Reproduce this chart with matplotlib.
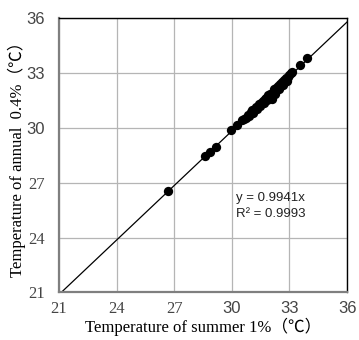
import matplotlib
matplotlib.use("Agg")
import matplotlib.pyplot as plt
import numpy as np

# Data
x_vals = [26.7, 28.6, 28.85, 29.15, 29.95, 30.25, 30.55, 30.65, 30.75, 30.85, 30.9, 31.0,
          31.05, 31.1, 31.2, 31.25, 31.3, 31.4, 31.45, 31.5, 31.6, 31.65, 31.7, 31.8,
          31.85, 31.9, 32.0, 32.05, 32.1, 32.2, 32.25, 32.3, 32.4, 32.45, 32.5, 32.6,
          32.65, 32.7, 32.8, 32.85, 32.9, 33.0, 33.1, 33.15, 33.55, 33.9]
y_vals = [26.55, 28.45, 28.65, 28.97, 29.88, 30.15, 30.45, 30.50, 30.55, 30.72, 30.62, 30.85,
          30.95, 30.80, 31.05, 31.15, 31.00, 31.30, 31.20, 31.38, 31.45, 31.35, 31.55, 31.65,
          31.52, 31.78, 31.85, 31.70, 31.60, 32.10, 31.85, 32.20, 32.30, 32.10, 32.40, 32.48,
          32.35, 32.60, 32.70, 32.55, 32.80, 32.88, 33.00, 33.05, 33.43, 33.80]
slope = 0.9941
r2 = 0.9993
ticks = [21, 24, 27, 30, 33, 36]
x_label = "Temperature of summer 1%（℃）"
y_label = "Temperature of annual  0.4%（℃）"

fig = plt.figure(figsize=(3.59, 3.40), dpi=100)
ax = fig.add_axes([0.164, 0.140, 0.803, 0.807])

ax.set_xlim(21, 36)
ax.set_ylim(21, 36)
ax.set_xticks(ticks)
ax.set_yticks(ticks)
ax.grid(True, color="#b5b5b5", linewidth=0.9)
ax.set_axisbelow(True)

lx = np.array([21, 36])
ax.plot(lx, slope * lx, color="black", linewidth=0.9, zorder=2)
ax.scatter(x_vals, y_vals, s=45, color="black", zorder=3, linewidths=0)

for s in ["left", "bottom"]:
    ax.spines[s].set_color("#7f7f7f")
    ax.spines[s].set_linewidth(1.6)
for s in ["top", "right"]:
    ax.spines[s].set_color("black")
    ax.spines[s].set_linewidth(1.0)

ax.tick_params(axis="both", length=0, labelsize=12, colors="#444444")
ax.tick_params(axis="y", pad=10)
ax.tick_params(axis="x", pad=6)
ax.set_xticklabels([str(t) for t in ticks])
ax.set_yticklabels([str(t) for t in ticks])
for lab, t in zip(ax.get_xticklabels(), ticks):
    lab.set_family(["Liberation Serif"] if t < 30 else ["Liberation Sans"])
for lab, t in zip(ax.get_yticklabels(), ticks):
    lab.set_family(["Liberation Serif"] if t < 30 else ["Liberation Sans"])

label_fam = ["Liberation Serif", "Noto Sans CJK SC", "DejaVu Serif"]
ax.set_xlabel(x_label, family=label_fam, fontsize=12, labelpad=1)
ax.set_ylabel(y_label, family=label_fam, fontsize=12, labelpad=0)

ax.text(30.2, 26.0, f"y = {slope}x", family=["Liberation Sans"], fontsize=9.5, color="#222222")
ax.text(30.2, 25.1, f"R² = {r2}", family=["Liberation Sans"], fontsize=9.5, color="#222222")

fig.savefig("out.png", dpi=100)
